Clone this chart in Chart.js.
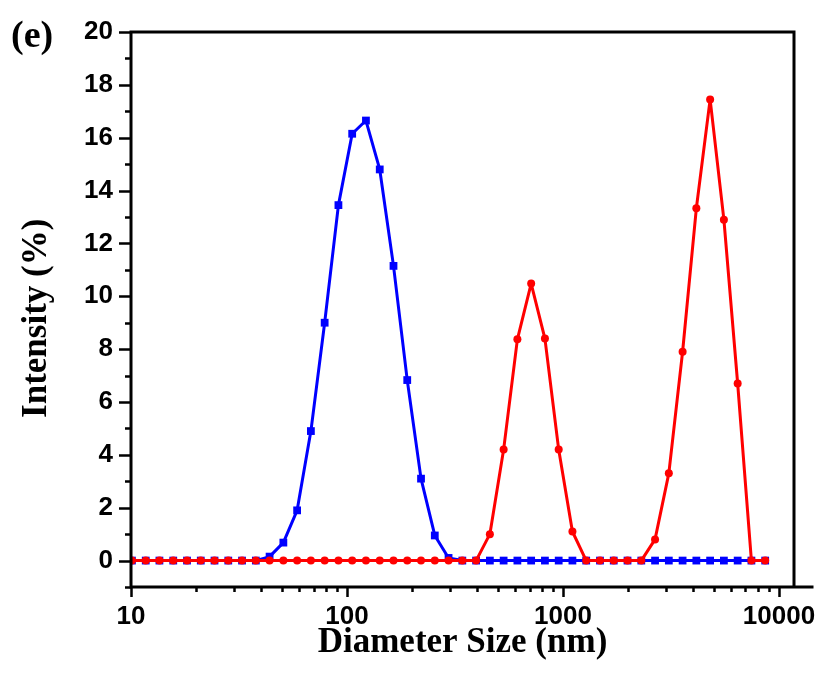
<!DOCTYPE html>
<html>
<head>
<meta charset="utf-8">
<script src="https://cdn.jsdelivr.net/npm/chart.js@4/dist/chart.umd.min.js"></script>
<style>
    body { margin: 0; background: #fff; }
    canvas { display: block; }
</style>
</head>
<body>
<canvas id="sizeChart" width="821" height="673"></canvas>
<script>
(function() {
    // Zetasizer size bins (nm)
    const sizes = [
        10.10, 11.70, 13.54, 15.69, 18.17, 21.04, 24.36, 28.21, 32.67, 37.84,
        43.82, 50.75, 58.77, 68.06, 78.82, 91.28, 105.7, 122.4, 141.8, 164.2,
        190.1, 220.2, 255.0, 295.3, 342.0, 396.1, 458.7, 531.2, 615.1, 712.4,
        825.0, 955.4, 1106, 1281, 1484, 1718, 1990, 2305, 2669, 3091,
        3580, 4145, 4801, 5560, 6439, 7456, 8635,
    ];

    const blueIntensity = [
        0, 0, 0, 0, 0, 0, 0, 0, 0, 0,
        0.15, 0.68, 1.9, 4.9, 9.0, 13.45, 16.15, 16.65, 14.8, 11.15,
        6.83, 3.1, 0.95, 0.1, 0, 0, 0, 0, 0, 0,
        0, 0, 0, 0, 0, 0, 0, 0, 0, 0,
        0, 0, 0, 0, 0, 0, 0,
    ];

    const redIntensity = [
        0, 0, 0, 0, 0, 0, 0, 0, 0, 0,
        0, 0, 0, 0, 0, 0, 0, 0, 0, 0,
        0, 0, 0, 0, 0, 0, 1.0, 4.2, 8.37, 10.48,
        8.4, 4.2, 1.1, 0, 0, 0, 0, 0, 0.8, 3.3,
        7.9, 13.33, 17.45, 12.9, 6.7, 0, 0,
    ];

    const xTicks = [10, 100, 1000, 10000];
    const yTicks = [0, 2, 4, 6, 8, 10, 12, 14, 16, 18, 20];

    const tickFont = { family: 'Liberation Sans', weight: 'bold', size: 26 };
    const titleFont = { family: 'Liberation Serif', weight: 'bold', size: 35 };

    function series(values) {
        return values.map((v, i) => ({ x: sizes[i], y: v }));
    }

    // axis frame, tick marks and panel letter
    const frame = {
        id: 'frame',
        afterDatasetsDraw(chart) {
            const { ctx, chartArea: a, scales } = chart;
            const x = scales.x;
            const y = scales.y;
            ctx.save();
            ctx.strokeStyle = '#000';
            ctx.lineWidth = 3;
            ctx.lineCap = 'square';
            ctx.beginPath();
            ctx.moveTo(a.left, a.bottom);
            ctx.lineTo(a.left, a.top);
            ctx.lineTo(a.right, a.top);
            ctx.lineTo(a.right, a.bottom);
            ctx.moveTo(a.left, a.bottom);
            ctx.lineTo(a.right + 18, a.bottom);
            ctx.stroke();

            ctx.lineWidth = 2.5;
            ctx.lineCap = 'butt';
            ctx.beginPath();
            for (let v = Math.ceil(y.min); v <= y.max; v++) {
                let len = yTicks.includes(v) ? 12 : 6;
                let py = Math.round(y.getPixelForValue(v)) + 0.5;
                ctx.moveTo(a.left - len, py);
                ctx.lineTo(a.left, py);
            }
            for (let decade of xTicks) {
                for (let k = 1; k <= 9; k++) {
                    let v = decade * k;
                    if (v > x.max) break;
                    let len = k === 1 ? 10 : 5;
                    let px = Math.round(x.getPixelForValue(v)) + 0.5;
                    ctx.moveTo(px, a.bottom);
                    ctx.lineTo(px, a.bottom + len);
                }
            }
            ctx.stroke();

            ctx.fillStyle = '#000';
            ctx.font = 'bold 38px "Liberation Serif"';
            ctx.textBaseline = 'alphabetic';
            ctx.textAlign = 'left';
            ctx.fillText('(e)', 11, 47);
            ctx.restore();
        },
    };

    new Chart(
        document.getElementById('sizeChart'),
        {
            type: 'line',
            data: {
                datasets: [
                    {
                        data: series(blueIntensity),
                        order: 1,
                        borderColor: '#0000FF',
                        backgroundColor: '#0000FF',
                        borderWidth: 3,
                        borderJoinStyle: 'round',
                        pointStyle: 'rect',
                        pointRadius: 5.5,
                        pointBorderWidth: 0,
                        tension: 0,
                    },
                    {
                        data: series(redIntensity),
                        order: 0,
                        borderColor: '#FF0000',
                        backgroundColor: '#FF0000',
                        borderWidth: 3,
                        borderJoinStyle: 'round',
                        pointStyle: 'circle',
                        pointRadius: 4,
                        pointBorderWidth: 0,
                        tension: 0,
                    },
                ],
            },
            options: {
                responsive: false,
                animation: false,
                layout: {
                    padding: { top: 32, right: 27, left: 0, bottom: 0 },
                },
                plugins: {
                    legend: { display: false },
                    tooltip: { enabled: false },
                },
                scales: {
                    x: {
                        type: 'logarithmic',
                        min: 10,
                        max: 11740,
                        afterBuildTicks: scale => {
                            scale.ticks = xTicks.map(v => ({ value: v }));
                        },
                        afterFit: scale => {
                            scale.height = 86;
                        },
                        border: { display: false },
                        grid: { display: false, drawTicks: true, tickLength: 10 },
                        ticks: {
                            color: '#000',
                            font: tickFont,
                            padding: 4,
                            maxRotation: 0,
                            autoSkip: false,
                            callback: value => String(value),
                        },
                        title: {
                            display: true,
                            text: 'Diameter Size (nm)',
                            color: '#000',
                            font: titleFont,
                            padding: { top: 0, bottom: 9 },
                        },
                    },
                    y: {
                        min: -1,
                        max: 20,
                        afterBuildTicks: scale => {
                            scale.ticks = yTicks.map(v => ({ value: v }));
                        },
                        afterFit: scale => {
                            scale.width = 131;
                        },
                        border: { display: false },
                        grid: { display: false, drawTicks: true, tickLength: 12 },
                        ticks: {
                            color: '#000',
                            font: tickFont,
                            padding: 6,
                        },
                        title: {
                            display: true,
                            text: 'Intensity (%)  ',
                            color: '#000',
                            font: titleFont,
                            padding: { top: 16, bottom: 0 },
                        },
                    },
                },
            },
            plugins: [frame],
        },
    );
})();
</script>
</body>
</html>
